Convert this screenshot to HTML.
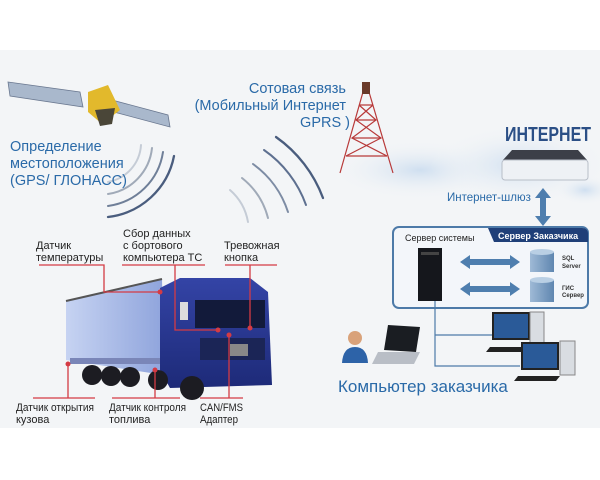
<!DOCTYPE html>
<html><head><meta charset="utf-8"><style>
html,body{margin:0;padding:0;background:#fff;}
svg{display:block;font-family:"Liberation Sans",sans-serif;}
</style></head><body>
<svg width="600" height="480" viewBox="0 0 600 480">
<defs>
<radialGradient id="cl" cx="50%" cy="50%" r="50%"><stop offset="0" stop-color="#cfdff0"/><stop offset="1" stop-color="#f3f5f7" stop-opacity="0"/></radialGradient>
<linearGradient id="trl" x1="0" x2="1"><stop offset="0" stop-color="#c6d3f2"/><stop offset="1" stop-color="#8fa4dc"/></linearGradient>
<linearGradient id="cab" x1="0" x2="0" y1="0" y2="1"><stop offset="0" stop-color="#3444a6"/><stop offset="1" stop-color="#1d2a78"/></linearGradient>
<linearGradient id="cyl" x1="0" x2="1"><stop offset="0" stop-color="#9fbad6"/><stop offset="1" stop-color="#5f86b0"/></linearGradient>
</defs>
<rect x="0" y="50" width="600" height="378" fill="#f3f5f7"/>
<ellipse cx="420" cy="170" rx="90" ry="30" fill="url(#cl)"/>
<ellipse cx="520" cy="165" rx="90" ry="40" fill="url(#cl)"/>
<ellipse cx="585" cy="190" rx="30" ry="15" fill="url(#cl)"/>
<!-- satellite -->
<path d="M8 82 L80 92 L83 107 L10 96 Z" fill="#a9b8cc" stroke="#6a7890" stroke-width="0.8"/>
<path d="M112 100 L168 115 L170 127 L114 112 Z" fill="#a9b8cc" stroke="#6a7890" stroke-width="0.8"/>
<path d="M88 92 L108 85 L120 110 L102 124 L88 112 Z" fill="#e2b92c"/>
<path d="M95 110 L115 108 L112 124 L100 126 Z" fill="#4a4638"/>
<!-- signal arcs satellite -->
<g fill="none" stroke-linecap="round">
<path d="M141 145 A40 40 0 0 1 108 182" stroke="#c5ccd6" stroke-width="2"/>
<path d="M152 148 A52 52 0 0 1 108 194" stroke="#a0aab8" stroke-width="2"/>
<path d="M163 152 A64 64 0 0 1 108 206" stroke="#6f7f98" stroke-width="2"/>
<path d="M174 156 A76 76 0 0 1 108 217" stroke="#4a5d7e" stroke-width="2.3"/>
</g>
<!-- signal arcs tower -->
<g fill="none" stroke-linecap="round">
<path d="M276 137 A130 130 0 0 1 323 198" stroke="#4a5d7e" stroke-width="2.3"/>
<path d="M264 150 A113 113 0 0 1 306 205" stroke="#5e7090" stroke-width="2"/>
<path d="M253 164 A95 95 0 0 1 288 212" stroke="#7d8ca4" stroke-width="2"/>
<path d="M242 178 A75 75 0 0 1 268 218" stroke="#a0aab8" stroke-width="2"/>
<path d="M230 190 A55 55 0 0 1 248 222" stroke="#c5ccd6" stroke-width="2"/>
</g>
<!-- tower -->
<g stroke="#b83a3a" stroke-width="1.2" fill="none">
<path d="M340 173 L363 92 L369 92 L393 173"/>
<path d="M359 105 L373 105 M356 120 L376 120 M352 138 L381 138 M346 156 L387 156"/>
<path d="M359 105 L376 120 L352 138 L387 156 M373 105 L356 120 L381 138 L346 156"/>
</g>
<rect x="362" y="82" width="8" height="12" fill="#6a3a2a"/>
<text fill="#2a6aa8" font-size="14.5" text-anchor="end">
<tspan x="350" y="93">Сотовая связь</tspan>
<tspan x="350" y="110">(Мобильный Интернет</tspan>
<tspan x="350" y="127">GPRS )</tspan>
</text>
<text fill="#2a6aa8" font-size="14.5">
<tspan x="10" y="151">Определение</tspan>
<tspan x="10" y="168">местоположения</tspan>
<tspan x="10" y="185">(GPS/ ГЛОНАСС)</tspan>
</text>
<!-- internet -->
<text x="505" y="141" fill="#2b4f86" font-size="20" font-weight="bold" textLength="86" lengthAdjust="spacingAndGlyphs">ИНТЕРНЕТ</text>
<path d="M503 160 L512 150 L578 150 L587 160 Z" fill="#3c3f48"/>
<rect x="502" y="160" width="86" height="20" rx="3" fill="#eef1f5" stroke="#b8bec8"/>
<text x="447" y="201" fill="#2a6aa8" font-size="11.5">Интернет-шлюз</text>
<path d="M543 188 L535 198 L540 198 L540 216 L535 216 L543 226 L551 216 L546 216 L546 198 L551 198 Z" fill="#4e7eae"/>
<!-- server box -->
<rect x="393" y="227" width="195" height="81" rx="6" fill="#f3f6fa" stroke="#4d7aa8" stroke-width="2"/>
<path d="M488 228 L582 228 Q588 228 588 234 L588 242 L494 242 Z" fill="#1f3f78"/>
<text x="498" y="239" fill="#fff" font-size="9" font-weight="bold">Сервер Заказчика</text>
<text x="405" y="241" fill="#222" font-size="9">Сервер системы</text>
<rect x="418" y="248" width="24" height="53" fill="#15171c"/>
<rect x="421" y="252" width="18" height="3" fill="#444"/>
<g fill="#4e7eae">
<path d="M460 262 L470 255 L470 259 L510 259 L510 255 L520 262 L510 269 L510 265 L470 265 L470 269 Z"/>
<path d="M460 289 L470 282 L470 286 L510 286 L510 282 L520 289 L510 296 L510 292 L470 292 L470 296 Z"/>
</g>
<rect x="530" y="252" width="24" height="20" fill="url(#cyl)"/><ellipse cx="542" cy="252" rx="12" ry="3" fill="#b9cfe4"/>
<rect x="530" y="280" width="24" height="22" fill="url(#cyl)"/><ellipse cx="542" cy="280" rx="12" ry="3" fill="#b9cfe4"/>
<text font-size="6" font-weight="bold" fill="#333"><tspan x="562" y="260">SQL</tspan><tspan x="562" y="268">Server</tspan><tspan x="562" y="290">ГИС</tspan><tspan x="562" y="297">Сервер</tspan></text>
<path d="M435 301 L435 366 L520 366 M435 335 L492 335" stroke="#4d7aa8" fill="none" stroke-width="1.2"/>
<g>
<rect x="493" y="313" width="36" height="26" fill="#2a5a98" stroke="#222" stroke-width="2"/>
<rect x="530" y="312" width="14" height="34" fill="#d9dde2" stroke="#888"/>
<path d="M490 347 L530 347 L526 352 L486 352 Z" fill="#222"/>
<rect x="522" y="343" width="36" height="26" fill="#2a5a98" stroke="#222" stroke-width="2"/>
<rect x="560" y="341" width="15" height="34" fill="#d9dde2" stroke="#888"/>
<path d="M518 376 L560 376 L556 381 L514 381 Z" fill="#222"/>
</g>
<path d="M388 325 L420 327 L416 352 L384 350 Z" fill="#1a1d22"/>
<path d="M378 352 L420 352 L414 364 L372 364 Z" fill="#b9bec6"/>
<circle cx="355" cy="338" r="7" fill="#d9a27a"/>
<path d="M342 363 Q343 347 355 347 Q367 347 368 363 Z" fill="#2d63a8"/>
<text x="338" y="392" fill="#2a6aa8" font-size="17">Компьютер заказчика</text>
<!-- truck -->
<path d="M66 301 L162 279 L164 375 L66 360 Z" fill="url(#trl)"/>
<path d="M66 301 L162 279" stroke="#555" stroke-width="2"/>
<rect x="70" y="358" width="92" height="6" fill="#7a86b8"/>
<path d="M160 288 L180 278 L250 278 L268 292 L272 385 L170 388 L160 370 Z" fill="url(#cab)"/>
<rect x="195" y="300" width="70" height="28" fill="#121a3a"/>
<rect x="200" y="338" width="65" height="22" fill="#1b2556"/>
<rect x="230" y="344" width="18" height="12" fill="#888"/>
<rect x="180" y="302" width="8" height="18" fill="#ddd"/>
<g fill="#1c1c22">
<circle cx="92" cy="375" r="10"/><circle cx="111" cy="376" r="10"/><circle cx="130" cy="377" r="10"/>
<circle cx="158" cy="380" r="10"/><circle cx="192" cy="388" r="12"/>
</g>
<g stroke="#d43b44" stroke-width="1.3" fill="none">
<path d="M39 265 L104 265 L104 292 L160 292"/>
<path d="M122 265 L205 265 M175 265 L175 330 L218 330"/>
<path d="M225 265 L277 265 M250 265 L250 328"/>
<path d="M68 364 L68 398 M155 370 L155 398 M229 335 L229 398"/>
<path d="M33 398 L95 398 M112 398 L180 398 M200 398 L243 398"/>
</g>
<g fill="#d43b44"><circle cx="160" cy="292" r="2.5"/><circle cx="218" cy="330" r="2.5"/><circle cx="250" cy="328" r="2.5"/><circle cx="229" cy="335" r="2.5"/><circle cx="68" cy="364" r="2.5"/><circle cx="155" cy="370" r="2.5"/></g>
<g font-size="11" fill="#222">
<text><tspan x="36" y="249">Датчик</tspan><tspan x="36" y="261">температуры</tspan></text>
<text><tspan x="123" y="237">Сбор данных</tspan><tspan x="123" y="249">с бортового</tspan><tspan x="123" y="261">компьютера ТС</tspan></text>
<text><tspan x="224" y="249">Тревожная</tspan><tspan x="224" y="261">кнопка</tspan></text>
</g>
<g font-size="11" fill="#222">
<text x="16" y="411" textLength="78" lengthAdjust="spacingAndGlyphs">Датчик открытия</text>
<text x="16" y="423">кузова</text>
<text x="109" y="411" textLength="77" lengthAdjust="spacingAndGlyphs">Датчик контроля</text>
<text x="109" y="423">топлива</text>
<text x="200" y="411" textLength="43" lengthAdjust="spacingAndGlyphs">CAN/FMS</text>
<text x="200" y="423" textLength="38" lengthAdjust="spacingAndGlyphs">Адаптер</text>
</g>
</svg>
</body></html>
